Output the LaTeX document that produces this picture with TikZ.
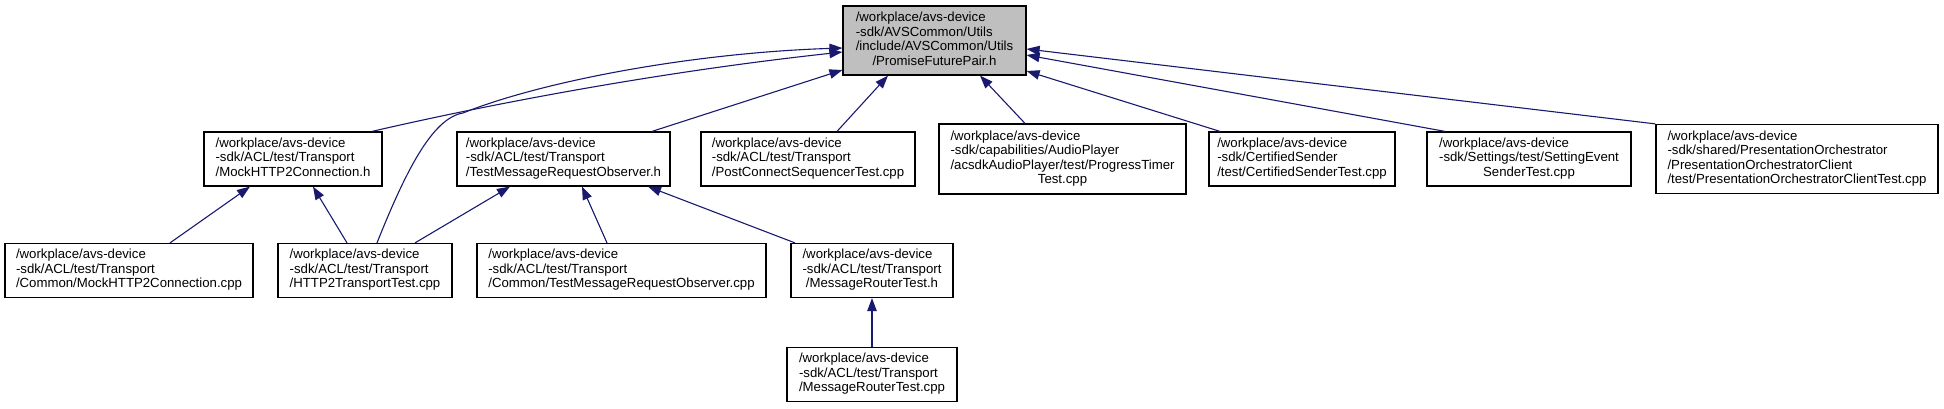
\documentclass[tikz,border=0pt]{standalone}
\usepackage{fontspec}
\setmainfont{Liberation Sans}
\usetikzlibrary{arrows.meta}

\definecolor{depblue}{HTML}{191970}
\definecolor{rootgray}{HTML}{BFBFBF}

\newcommand{\docfont}{\fontsize{13.2pt}{14.5pt}\selectfont}
\newcommand{\fpath}[1]{\begin{tabular}{@{}l@{}}#1\end{tabular}}
\newcommand{\lastln}[1]{\multicolumn{1}{@{}c@{}}{#1}}

\tikzset{
  filebox/.style={draw=black, line width=1.2pt, fill=white, inner sep=0pt, font=\docfont, minimum height=54pt},
  rootbox/.style={filebox, fill=rootgray, minimum height=69pt},
  dep/.style={draw=depblue, line width=1.1pt, -{Triangle[length=13pt,width=9.5pt]}}
}

\begin{document}
\begin{tikzpicture}[x=1pt, y=1pt]

  \useasboundingbox (0,0) rectangle (1944,408);

  % Row heights
  \def\rowa{367.5}
  \def\rowb{249}
  \def\rowc{137.5}
  \def\rowd{33.5}

  % Included header
  \node[rootbox, minimum width=183pt] (pfp) at (934.5,\rowa)
    {\fpath{/workplace/avs-device\\ -sdk/AVSCommon/Utils\\ /include/AVSCommon/Utils\\ \lastln{/PromiseFuturePair.h}}};

  % Direct includers
  \node[filebox, minimum width=178pt] (mockh) at (293,\rowb)
    {\fpath{/workplace/avs-device\\ -sdk/ACL/test/Transport\\ \lastln{/MockHTTP2Connection.h}}};
  \node[filebox, minimum width=213pt] (tmroh) at (563.5,\rowb)
    {\fpath{/workplace/avs-device\\ -sdk/ACL/test/Transport\\ \lastln{/TestMessageRequestObserver.h}}};
  \node[filebox, minimum width=214pt] (postc) at (808,\rowb)
    {\fpath{/workplace/avs-device\\ -sdk/ACL/test/Transport\\ \lastln{/PostConnectSequencerTest.cpp}}};
  \node[filebox, minimum width=247pt, minimum height=70pt] (audio) at (1062.5,\rowb)
    {\fpath{/workplace/avs-device\\ -sdk/capabilities/AudioPlayer\\ /acsdkAudioPlayer/test/ProgressTimer\\ \lastln{Test.cpp}}};
  \node[filebox, minimum width=186pt] (certs) at (1302,\rowb)
    {\fpath{/workplace/avs-device\\ -sdk/CertifiedSender\\ \lastln{/test/CertifiedSenderTest.cpp}}};
  \node[filebox, minimum width=204pt] (settev) at (1529,\rowb)
    {\fpath{/workplace/avs-device\\ -sdk/Settings/test/SettingEvent\\ \lastln{SenderTest.cpp}}};
  \node[filebox, minimum width=282pt, minimum height=69pt] (presorch) at (1797,\rowb)
    {\fpath{/workplace/avs-device\\ -sdk/shared/PresentationOrchestrator\\ /PresentationOrchestratorClient\\ \lastln{/test/PresentationOrchestratorClientTest.cpp}}};

  % Second level
  \node[filebox, minimum width=248pt] (mockcpp) at (129,\rowc)
    {\fpath{/workplace/avs-device\\ -sdk/ACL/test/Transport\\ \lastln{/Common/MockHTTP2Connection.cpp}}};
  \node[filebox, minimum width=174pt] (h2tt) at (365,\rowc)
    {\fpath{/workplace/avs-device\\ -sdk/ACL/test/Transport\\ \lastln{/HTTP2TransportTest.cpp}}};
  \node[filebox, minimum width=289pt] (tmrocpp) at (621.5,\rowc)
    {\fpath{/workplace/avs-device\\ -sdk/ACL/test/Transport\\ \lastln{/Common/TestMessageRequestObserver.cpp}}};
  \node[filebox, minimum width=162pt] (mrth) at (872,\rowc)
    {\fpath{/workplace/avs-device\\ -sdk/ACL/test/Transport\\ \lastln{/MessageRouterTest.h}}};

  % Third level
  \node[filebox, minimum width=170pt] (mrtcpp) at (872,\rowd)
    {\fpath{/workplace/avs-device\\ -sdk/ACL/test/Transport\\ \lastln{/MessageRouterTest.cpp}}};

  % Edges into the header
  \coordinate (h2bend) at (463,295);
  \draw[dep] ([xshift=79pt]mockh.north) .. controls +(108,25) and +(-193,-21) .. ([yshift=-11.5pt]pfp.west);
  \draw[dep] ([xshift=12pt]h2tt.north) .. controls +(28,70) and +(-31,-5) .. (h2bend)
    .. controls +(77,31) and +(-153,-5) .. ([yshift=-7.5pt]pfp.west);
  \draw[dep] ([xshift=88.5pt]tmroh.north) -- ([yshift=-29.5pt]pfp.west);
  \draw[dep] ([xshift=29pt]postc.north) -- ([xshift=-46.5pt]pfp.south);
  \draw[dep] ([xshift=-37.5pt]audio.north) -- ([xshift=45.5pt]pfp.south);
  \draw[dep] ([xshift=-82pt]certs.north) -- ([yshift=-30.5pt]pfp.east);
  \draw[dep] ([xshift=-84pt]settev.north) -- ([yshift=-14.5pt]pfp.east);
  \draw[dep] (presorch.north west) -- ([yshift=-8.5pt]pfp.east);

  % Edges between test files
  \draw[dep] ([xshift=41pt]mockcpp.north) -- ([xshift=-43pt]mockh.south);
  \draw[dep] ([xshift=-18pt]h2tt.north) -- ([xshift=20pt]mockh.south);
  \draw[dep] ([xshift=50pt]h2tt.north) -- ([xshift=-53.5pt]tmroh.south);
  \draw[dep] ([xshift=-14.5pt]tmrocpp.north) -- ([xshift=18.5pt]tmroh.south);
  \draw[dep] ([xshift=-77pt]mrth.north) -- ([xshift=84.5pt]tmroh.south);
  \draw[dep] (mrtcpp.north) -- (mrth.south);

\end{tikzpicture}
\end{document}
